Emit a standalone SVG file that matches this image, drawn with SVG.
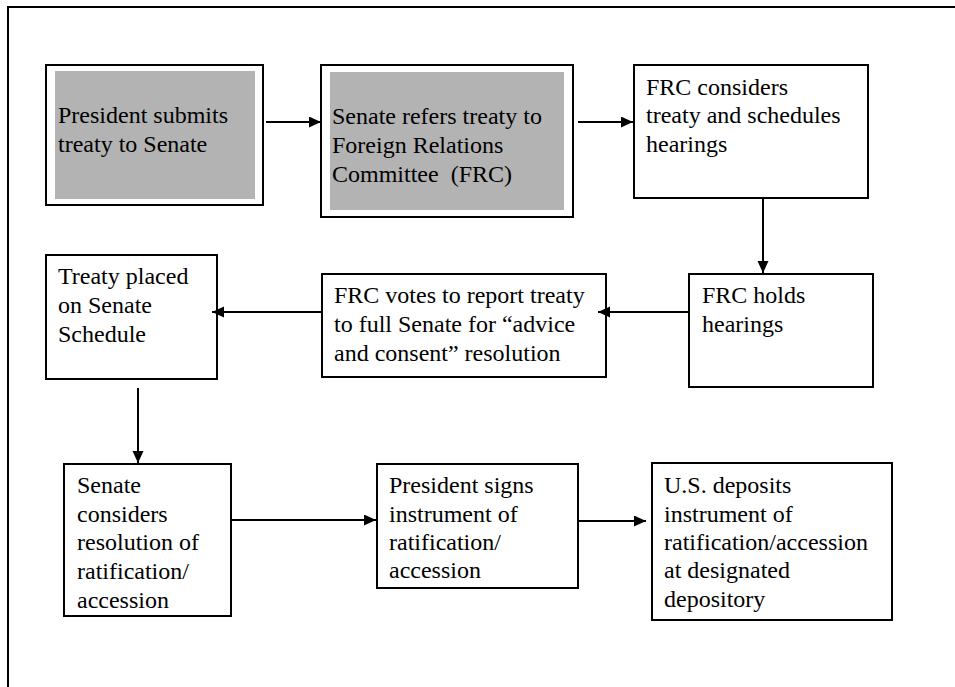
<svg xmlns="http://www.w3.org/2000/svg" width="955" height="687" viewBox="0 0 955 687">
<style>
.box{fill:#fff;stroke:#000;stroke-width:2}
.gray{fill:#b3b3b3;stroke:none}
.t{font-family:'Liberation Serif','Times New Roman',Times,'DejaVu Serif',serif;font-size:24px;fill:#000}
.c{fill:none;stroke:#000;stroke-width:2}
.frame{fill:none;stroke:#000;stroke-width:2}
</style>
<defs>
<marker id="ah" markerUnits="userSpaceOnUse" markerWidth="13" markerHeight="12" refX="12" refY="5.5" orient="auto">
<path d="M0,0 L12,5.5 L0,11 z" fill="#000"/>
</marker>
</defs>
<rect width="955" height="687" fill="#fff"/>
<path class="frame" d="M8,687 V7 H955"/>
<g id="n1">
<rect class="box" x="46" y="65" width="217" height="140"/>
<rect class="gray" x="55" y="71" width="200" height="128"/>
<text class="t"><tspan x="58" y="123">President submits</tspan><tspan x="58" y="152">treaty to Senate</tspan></text>
</g>
<g id="n2">
<rect class="box" x="321" y="65" width="252" height="152"/>
<rect class="gray" x="330" y="72" width="234" height="138"/>
<text class="t"><tspan x="332" y="124">Senate refers treaty to</tspan><tspan x="332" y="153">Foreign Relations</tspan><tspan x="332" y="182" xml:space="preserve">Committee  (FRC)</tspan></text>
</g>
<g id="n3">
<rect class="box" x="634" y="65" width="234" height="133"/>
<text class="t"><tspan x="646" y="95">FRC considers</tspan><tspan x="646" y="123">treaty and schedules</tspan><tspan x="646" y="152">hearings</tspan></text>
</g>
<g id="n4">
<rect class="box" x="689" y="274" width="184" height="113"/>
<text class="t"><tspan x="702" y="303">FRC holds</tspan><tspan x="702" y="332">hearings</tspan></text>
</g>
<g id="n5">
<rect class="box" x="322" y="274" width="284" height="103"/>
<text class="t"><tspan x="334" y="303">FRC votes to report treaty</tspan><tspan x="334" y="332">to full Senate for “advice</tspan><tspan x="334" y="361">and consent” resolution</tspan></text>
</g>
<g id="n6">
<rect class="box" x="46" y="255" width="171" height="124"/>
<text class="t"><tspan x="58" y="284">Treaty placed</tspan><tspan x="58" y="313">on Senate</tspan><tspan x="58" y="342">Schedule</tspan></text>
</g>
<g id="n7">
<rect class="box" x="64" y="464" width="167" height="152"/>
<text class="t"><tspan x="77" y="493">Senate</tspan><tspan x="77" y="522">considers</tspan><tspan x="77" y="550">resolution of</tspan><tspan x="77" y="579">ratification/</tspan><tspan x="77" y="608">accession</tspan></text>
</g>
<g id="n8">
<rect class="box" x="377" y="464" width="201" height="124"/>
<text class="t"><tspan x="389" y="493">President signs</tspan><tspan x="389" y="522">instrument of</tspan><tspan x="389" y="550">ratification/</tspan><tspan x="389" y="578">accession</tspan></text>
</g>
<g id="n9">
<rect class="box" x="652" y="463" width="240" height="157"/>
<text class="t"><tspan x="664" y="493">U.S. deposits</tspan><tspan x="664" y="522">instrument of</tspan><tspan x="664" y="550">ratification/accession</tspan><tspan x="664" y="578">at designated</tspan><tspan x="664" y="607">depository</tspan></text>
</g>
<g id="connectors">
<path class="c" d="M266,122 H321" marker-end="url(#ah)"/>
<path class="c" d="M578,122 H633" marker-end="url(#ah)"/>
<path class="c" d="M763,198 V273" marker-end="url(#ah)"/>
<path class="c" d="M689,312 H598" marker-end="url(#ah)"/>
<path class="c" d="M322,312 H212" marker-end="url(#ah)"/>
<path class="c" d="M138,388 V463" marker-end="url(#ah)"/>
<path class="c" d="M231,520 H376" marker-end="url(#ah)"/>
<path class="c" d="M578,521 H646" marker-end="url(#ah)"/>
</g>
</svg>
